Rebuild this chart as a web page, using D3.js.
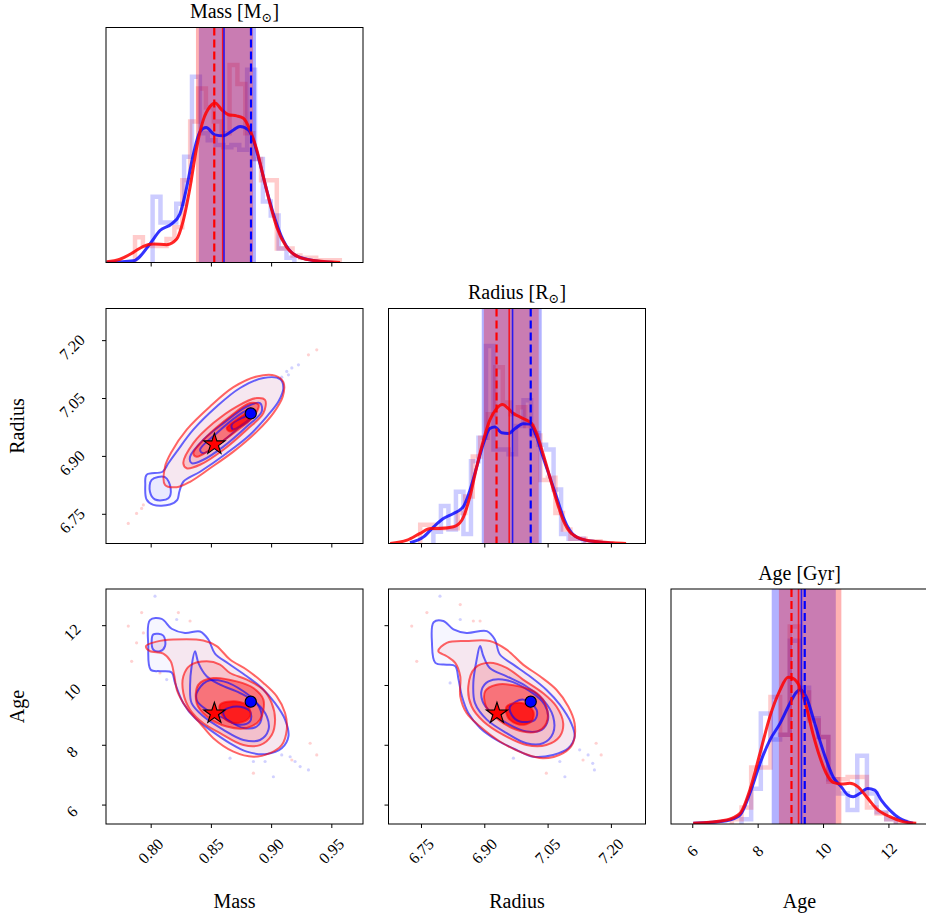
<!DOCTYPE html>
<html>
<head>
<meta charset="utf-8">
<script src="https://cdn.jsdelivr.net/npm/d3@7"></script>
<style>
  body { margin: 0; background: #fff; }
</style>
</head>
<body>
<svg id="chart" width="926" height="918"></svg>
<script>
// ---- axes ----
const varNames = ["Mass", "Radius", "Age"];
const titleParts = [["Mass [M", "⊙", "]"], ["Radius [R", "⊙", "]"], ["Age [Gyr]", "", ""]];
const domains = [[0.7629, 0.9763], [6.673, 7.282], [5.35, 13.21]];
const tickValues = [[0.80, 0.85, 0.90, 0.95], [6.75, 6.90, 7.05, 7.20], [6, 8, 10, 12]];
const tickLabels = [["0.80", "0.85", "0.90", "0.95"], ["6.75", "6.90", "7.05", "7.20"], ["6", "8", "10", "12"]];

// ---- 1D: kde curves [value, relative height] ----
const massKdeBlue = [[0.7634,0],[0.7856,0.007],[0.7994,0.079],[0.8077,0.136],[0.8174,0.164],[0.8243,0.207],[0.8299,0.32],[0.8354,0.46],[0.8410,0.557],[0.8460,0.574],[0.8534,0.543],[0.8604,0.539],[0.8687,0.564],[0.8742,0.579],[0.8811,0.564],[0.8853,0.52],[0.8908,0.42],[0.8964,0.307],[0.9019,0.207],[0.9102,0.093],[0.9185,0.036],[0.9296,0.014],[0.9518,0]];
const massKdeRed = [[0.7634,0.003],[0.7745,0.014],[0.7856,0.043],[0.7939,0.069],[0.8022,0.079],[0.8133,0.076],[0.8216,0.10],[0.8271,0.179],[0.8327,0.32],[0.8382,0.49],[0.8437,0.607],[0.8493,0.664],[0.8534,0.679],[0.8590,0.65],[0.8645,0.629],[0.8714,0.624],[0.8770,0.614],[0.8825,0.564],[0.8881,0.479],[0.8936,0.364],[0.8991,0.25],[0.9047,0.15],[0.9130,0.064],[0.9241,0.021],[0.9379,0.007],[0.9573,0]];
const radiusKdeBlue = [[6.724,0.003],[6.756,0.028],[6.780,0.071],[6.803,0.106],[6.827,0.128],[6.850,0.156],[6.866,0.227],[6.882,0.326],[6.898,0.426],[6.913,0.489],[6.925,0.496],[6.941,0.471],[6.957,0.468],[6.973,0.489],[6.992,0.51],[7.008,0.508],[7.024,0.454],[7.039,0.369],[7.055,0.284],[7.071,0.199],[7.087,0.113],[7.102,0.057],[7.126,0.021],[7.166,0.007],[7.205,0]];
const radiusKdeRed = [[6.677,0],[6.717,0.014],[6.748,0.043],[6.772,0.064],[6.795,0.064],[6.827,0.071],[6.847,0.10],[6.866,0.199],[6.882,0.326],[6.898,0.44],[6.913,0.525],[6.929,0.574],[6.943,0.591],[6.957,0.574],[6.969,0.553],[6.984,0.539],[7.000,0.525],[7.012,0.511],[7.024,0.468],[7.039,0.383],[7.055,0.284],[7.071,0.184],[7.087,0.099],[7.106,0.043],[7.142,0.014],[7.205,0.003],[7.236,0]];
const ageKdeBlue = [[6.03,0.003],[7.05,0.014],[7.46,0.038],[7.76,0.13],[8.07,0.257],[8.37,0.356],[8.68,0.427],[8.98,0.512],[9.19,0.561],[9.29,0.571],[9.49,0.54],[9.69,0.455],[9.90,0.356],[10.10,0.272],[10.31,0.20],[10.56,0.158],[10.76,0.123],[10.92,0.116],[11.12,0.13],[11.37,0.151],[11.58,0.144],[11.78,0.102],[12.04,0.059],[12.34,0.024],[12.75,0.003]];
const ageKdeRed = [[6.03,0.003],[7.05,0.017],[7.46,0.045],[7.76,0.144],[8.07,0.30],[8.37,0.455],[8.68,0.569],[8.93,0.625],[9.08,0.62],[9.29,0.583],[9.49,0.498],[9.69,0.385],[9.90,0.286],[10.10,0.215],[10.31,0.177],[10.56,0.17],[10.82,0.173],[11.07,0.158],[11.33,0.116],[11.63,0.066],[12.04,0.031],[12.44,0.01],[12.85,0.003]];

// ---- 1D: step histograms (first edge, bin width, relative heights) ----
const massHistBlue = { start: 0.8016, width: 0.00654, h: [.28,.17,.17,.25,.45,.79,.55,.52,.50,.49,.50,.48,.82,.44,.26,.20,.06,.02] };
const massHistRed = { start: 0.7870, width: 0.00654, h: [.107,.07,.07,.07,.10,.15,.35,.60,.74,.66,.60,.55,.84,.76,.55,.44,.35,.35,.06,.06,.03,.02,.02,.01,.01,.01] };
const radiusHistBlue = { start: 6.7794, width: 0.0178, h: [.05,.16,.06,.22,.04,.35,.45,.84,.40,.40,.38,.50,.61,.47,.42,.40,.23,.04,.02,.02] };
const radiusHistRed = { start: 6.7481, width: 0.0178, h: [.08,.08,.065,.065,.065,.13,.20,.37,.45,.55,.75,.60,.55,.58,.50,.46,.27,.28,.13,.06,.02,.02,.01,.01] };
const ageHistBlue = { start: 7.507, width: 0.295, h: [.02,.15,.47,.36,.38,.78,.58,.45,.37,.19,.13,.06,.29,.13,.05,.02] };
const ageHistRed = { start: 7.212, width: 0.295, h: [.02,.07,.24,.24,.54,.38,.84,.56,.44,.37,.18,.19,.20,.20,.07,.045,.02,.01] };

// ---- 1D: credible bands and summary lines ----
const bandsBlue = [[0.8400, 0.8874], [6.894, 7.036], [8.43, 10.39]];
const bandsRed = [[0.8376, 0.8850], [6.899, 7.029], [8.65, 10.56]];
const solidBlue = [0.8609, 6.967, 9.34];
const solidRed = [0.8598, 6.959, 9.25];
const dashBlue = [0.8833, 7.010, 9.44];
const dashRed = [0.8528, 6.929, 9.035];

// ---- 2D markers ----
const starPoint = [0.8529, 6.930, 9.05];
const dotPoint = [0.8831, 7.010, 9.44];

// ---- 2D contours: mass vs radius ----
const mrBlue1 = [[0.7966,6.851],[0.8099,6.859],[0.8147,6.881],[0.8216,6.911],[0.8354,6.968],[0.8548,7.028],[0.8742,7.076],[0.8936,7.102],[0.9075,7.099],[0.9102,7.076],[0.9061,7.041],[0.8964,7.002],[0.8825,6.955],[0.8631,6.907],[0.8410,6.859],[0.8271,6.833],[0.8238,6.807],[0.8221,6.786],[0.8160,6.774],[0.8022,6.773],[0.7966,6.787],[0.7955,6.825]];
const mrBlueIsland = [[0.8008,6.838],[0.8119,6.845],[0.8166,6.816],[0.8147,6.790],[0.8036,6.787],[0.7994,6.807]];
const mrBlue2 = [[0.8327,6.898],[0.8437,6.942],[0.8604,6.985],[0.8798,7.028],[0.8908,7.037],[0.8922,7.015],[0.8798,6.976],[0.8604,6.924],[0.8437,6.890],[0.8340,6.881]];
const mrBlue3 = [[0.8410,6.916],[0.8548,6.959],[0.8714,7.002],[0.8825,7.020],[0.8853,7.007],[0.8742,6.976],[0.8576,6.933],[0.8437,6.907]];
const mrBlue4 = [[0.8673,6.981],[0.8770,7.000],[0.8839,7.007],[0.8825,6.994],[0.8742,6.976],[0.8681,6.969]];
const mrRed1 = [[0.8119,6.872],[0.8174,6.911],[0.8299,6.968],[0.8493,7.028],[0.8687,7.078],[0.8881,7.106],[0.9033,7.108],[0.9102,7.091],[0.9097,7.054],[0.9019,7.011],[0.8881,6.963],[0.8687,6.911],[0.8493,6.868],[0.8327,6.833],[0.8216,6.819],[0.8119,6.825]];
const mrRed2 = [[0.8271,6.881],[0.8354,6.933],[0.8520,6.985],[0.8714,7.028],[0.8881,7.050],[0.8950,7.045],[0.8936,7.011],[0.8798,6.968],[0.8604,6.916],[0.8410,6.877],[0.8299,6.868]];
const mrRed3 = [[0.8354,6.907],[0.8465,6.950],[0.8659,7.002],[0.8825,7.037],[0.8895,7.033],[0.8853,7.002],[0.8687,6.959],[0.8493,6.916],[0.8382,6.898]];
const mrRed4 = [[0.8631,6.972],[0.8714,6.994],[0.8811,7.011],[0.8839,7.002],[0.8756,6.981],[0.8659,6.963]];
const mrDotsBlue = [[0.9130,7.119],[0.9172,7.128],[0.9227,7.136],[0.9144,7.110],[0.9088,7.104]];
const mrDotsRed = [[0.9379,7.175],[0.9310,7.162],[0.7814,6.725],[0.7883,6.751],[0.7925,6.764],[0.7939,6.773]];

// ---- 2D contours: mass vs age ----
const maBlue1 = [[0.7994,12.17],[0.8091,12.21],[0.8174,11.88],[0.8285,11.74],[0.8410,11.79],[0.8479,11.52],[0.8534,11.05],[0.8645,10.72],[0.8798,10.29],[0.8922,9.90],[0.9033,9.39],[0.9116,8.84],[0.9144,8.28],[0.9088,7.88],[0.8964,7.69],[0.8798,7.77],[0.8659,8.05],[0.8493,8.50],[0.8368,8.89],[0.8271,9.39],[0.8202,10.07],[0.8174,10.42],[0.8077,10.46],[0.8000,10.51],[0.7980,11.30]];
const maBlueIsland = [[0.8022,11.69],[0.8105,11.65],[0.8119,11.30],[0.8077,11.13],[0.8022,11.18],[0.8008,11.47]];
const maBlue2 = [[0.8368,11.13],[0.8396,10.74],[0.8465,10.29],[0.8576,10.01],[0.8742,9.73],[0.8881,9.39],[0.8964,8.95],[0.8978,8.50],[0.8908,8.16],[0.8770,8.16],[0.8604,8.50],[0.8437,8.95],[0.8340,9.39],[0.8327,9.95],[0.8340,10.63]];
const maBlue3 = [[0.8382,9.73],[0.8465,10.12],[0.8604,10.12],[0.8770,9.79],[0.8881,9.39],[0.8922,8.95],[0.8881,8.61],[0.8770,8.56],[0.8631,8.84],[0.8465,9.17],[0.8387,9.45]];
const maBlue4 = [[0.8604,9.12],[0.8714,9.28],[0.8825,9.12],[0.8825,8.78],[0.8742,8.67],[0.8631,8.84]];
const maRed1 = [[0.7961,11.30],[0.8050,11.45],[0.8188,11.52],[0.8437,11.49],[0.8548,11.30],[0.8659,10.85],[0.8798,10.51],[0.8936,10.07],[0.9047,9.62],[0.9116,9.06],[0.9130,8.50],[0.9088,7.99],[0.8991,7.72],[0.8853,7.60],[0.8687,7.77],[0.8520,8.22],[0.8410,8.72],[0.8299,9.23],[0.8221,9.79],[0.8194,10.35],[0.8166,10.79],[0.8105,11.05],[0.7994,11.13]];
const maRed2 = [[0.8327,10.65],[0.8465,10.79],[0.8576,10.68],[0.8659,10.40],[0.8798,10.18],[0.8936,9.84],[0.9005,9.39],[0.9033,8.84],[0.9005,8.33],[0.8908,7.99],[0.8770,7.99],[0.8576,8.39],[0.8437,8.72],[0.8327,9.17],[0.8271,9.73],[0.8271,10.29]];
const maRed3 = [[0.8396,10.01],[0.8520,10.23],[0.8714,10.12],[0.8853,9.90],[0.8936,9.51],[0.8908,8.84],[0.8798,8.56],[0.8631,8.61],[0.8465,8.95],[0.8382,9.39]];
const maRed4 = [[0.8576,9.34],[0.8714,9.45],[0.8811,9.28],[0.8825,8.95],[0.8756,8.75],[0.8645,8.78],[0.8582,9.06]];
const maDotsBlue = [[0.8036,12.97],[0.8216,12.19],[0.8659,7.55],[0.8853,7.44],[0.9019,6.93],[0.9088,7.66],[0.9158,7.60],[0.9199,7.44],[0.9241,7.27],[0.9310,7.16],[0.8950,7.44],[0.8133,10.18]];
const maDotsRed = [[0.7925,12.42],[0.7814,11.97],[0.7939,11.74],[0.7883,11.41],[0.8230,12.42],[0.8327,12.14],[0.8077,10.40],[0.9172,7.49],[0.9324,8.05],[0.9379,7.66],[0.8853,7.05],[0.7842,10.79]];

// ---- 2D contours: radius vs age ----
const raBlue1 = [[6.780,12.10],[6.803,12.14],[6.827,11.86],[6.858,11.74],[6.906,11.80],[6.925,11.52],[6.937,11.02],[6.969,10.68],[7.008,10.29],[7.047,9.84],[7.079,9.34],[7.106,8.72],[7.114,8.28],[7.099,7.88],[7.063,7.66],[7.016,7.60],[6.976,7.83],[6.929,8.16],[6.890,8.56],[6.862,9.06],[6.847,9.62],[6.839,10.18],[6.831,10.63],[6.811,10.68],[6.784,10.74],[6.776,11.41]];
const raBlue2 = [[6.890,11.30],[6.898,10.96],[6.913,10.57],[6.953,10.29],[7.000,9.95],[7.039,9.51],[7.063,8.95],[7.063,8.39],[7.039,8.05],[7.000,8.05],[6.953,8.39],[6.906,8.84],[6.878,9.39],[6.874,10.07],[6.882,10.85]];
const raBlue3 = [[6.894,9.84],[6.910,10.12],[6.953,10.16],[7.008,9.79],[7.043,9.34],[7.051,8.84],[7.036,8.50],[7.000,8.44],[6.953,8.72],[6.913,9.12],[6.896,9.45]];
const raBlue4 = [[6.961,9.28],[6.992,9.51],[7.024,9.17],[7.020,8.84],[6.984,8.78],[6.965,9.00]];
const raRed1 = [[6.791,11.13],[6.811,11.41],[6.858,11.47],[6.913,11.47],[6.953,11.18],[6.992,10.68],[7.032,10.29],[7.071,9.84],[7.099,9.28],[7.114,8.72],[7.110,8.05],[7.087,7.72],[7.039,7.55],[6.992,7.72],[6.937,8.11],[6.890,8.61],[6.858,9.06],[6.843,9.62],[6.843,10.29],[6.831,10.74],[6.811,10.96]];
const raRed2 = [[6.878,10.57],[6.913,10.74],[6.953,10.57],[6.992,10.18],[7.039,9.73],[7.071,9.28],[7.087,8.72],[7.079,8.28],[7.047,7.99],[7.000,7.99],[6.945,8.33],[6.898,8.78],[6.870,9.28],[6.862,9.95]];
const raRed3 = [[6.902,9.79],[6.929,10.01],[6.984,9.95],[7.024,9.73],[7.047,9.28],[7.047,8.72],[7.024,8.44],[6.976,8.50],[6.929,8.89],[6.904,9.28]];
const raRed4 = [[6.953,9.28],[6.992,9.39],[7.016,9.12],[7.012,8.78],[6.984,8.67],[6.957,8.89]];
const raDotsBlue = [[6.795,12.97],[6.843,12.19],[6.969,7.55],[7.079,7.44],[7.091,6.93],[7.126,7.83],[7.146,7.66],[7.157,7.38],[7.161,7.16],[6.819,10.07]];
const raDotsRed = [[6.764,12.42],[6.728,11.97],[6.740,10.79],[6.843,12.69],[6.874,12.14],[6.890,12.14],[7.165,8.05],[7.177,7.66],[7.047,7.05],[7.134,7.49]];

// ==========================================
const FONT = '"Liberation Serif", "DejaVu Serif", serif';
const W = 257, H = 235;
const colX = [106, 388.5, 671];
const rowY = [27.5, 308.5, 589];

const svg = d3.select("#chart");
const defs = svg.append("defs");

const xs = domains.map(d => d3.scaleLinear().domain(d).range([0, W]));
const ys = domains.map(d => d3.scaleLinear().domain(d).range([H, 0]));
const hScale = d3.scaleLinear().domain([0, 1]).range([H, 0]);

function makePanel(col, row) {
  const id = `clip-${row}-${col}`;
  defs.append("clipPath").attr("id", id).append("rect").attr("width", W).attr("height", H);
  const g = svg.append("g").attr("transform", `translate(${colX[col]},${rowY[row]})`);
  const inner = g.append("g").attr("clip-path", `url(#${id})`);
  return { g, inner };
}

function finishPanel(g, col, row, diag) {
  g.append("rect").attr("width", W).attr("height", H)
    .attr("fill", "none").attr("stroke", "#000").attr("stroke-width", 1);
  const xa = g.append("g").attr("transform", `translate(0,${H})`)
    .call(d3.axisBottom(xs[col]).tickValues(tickValues[col]).tickSize(4).tickFormat(""));
  xa.select(".domain").remove();
  xa.selectAll("line").attr("stroke", "#000");
  if (!diag) {
    const ya = g.append("g")
      .call(d3.axisLeft(ys[row]).tickValues(tickValues[row]).tickSize(4).tickFormat(""));
    ya.select(".domain").remove();
    ya.selectAll("line").attr("stroke", "#000");
  }
}

const kdeLine = d3.line().curve(d3.curveMonotoneX);
const closedLine = d3.line().curve(d3.curveCatmullRomClosed.alpha(0.5));

function stepPoints(hist) {
  const pts = [[hist.start, 0]];
  hist.h.forEach((v, k) => {
    const a = hist.start + k * hist.width, b = a + hist.width;
    pts.push([a, v], [b, v]);
  });
  pts.push([hist.start + hist.h.length * hist.width, 0]);
  return pts;
}

const diagData = [
  { kb: massKdeBlue, kr: massKdeRed, hb: massHistBlue, hr: massHistRed },
  { kb: radiusKdeBlue, kr: radiusKdeRed, hb: radiusHistBlue, hr: radiusHistRed },
  { kb: ageKdeBlue, kr: ageKdeRed, hb: ageHistBlue, hr: ageHistRed }
];

diagData.forEach((dd, i) => {
  const { g, inner } = makePanel(i, i);
  const x = xs[i];
  const line = kdeLine.x(d => x(d[0])).y(d => hScale(d[1]));

  [[dd.hb, "#0000ff"], [dd.hr, "#ff0000"]].forEach(([hist, c]) => {
    inner.append("path").attr("d", d3.line().x(d => x(d[0])).y(d => hScale(d[1]))(stepPoints(hist)))
      .attr("fill", "none").attr("stroke", c).attr("stroke-width", 4.5)
      .attr("stroke-opacity", 0.2).attr("stroke-linejoin", "miter");
  });

  [[bandsBlue[i], "#0000ff"], [bandsRed[i], "#ff0000"]].forEach(([b, c]) => {
    inner.append("rect").attr("x", x(b[0])).attr("width", x(b[1]) - x(b[0]))
      .attr("y", 0).attr("height", H).attr("fill", c).attr("fill-opacity", 0.3);
  });

  inner.append("path").attr("d", line(dd.kb)).attr("fill", "none")
    .attr("stroke", "#0000ff").attr("stroke-opacity", 0.8).attr("stroke-width", 3);
  inner.append("path").attr("d", line(dd.kr)).attr("fill", "none")
    .attr("stroke", "#ff0000").attr("stroke-opacity", 0.85).attr("stroke-width", 3);

  [[solidRed[i], "#ff0000", null], [solidBlue[i], "#0000ff", null],
   [dashRed[i], "#ff0000", "8,4"], [dashBlue[i], "#0000ff", "8,4"]].forEach(([v, c, dash]) => {
    inner.append("line").attr("x1", x(v)).attr("x2", x(v)).attr("y1", 0).attr("y2", H)
      .attr("stroke", c).attr("stroke-width", dash ? 2.2 : 1.6)
      .attr("stroke-opacity", dash ? 1 : 0.8)
      .attr("stroke-dasharray", dash);
  });

  finishPanel(g, i, i, true);

  // title
  const tp = titleParts[i];
  const t = svg.append("text").attr("x", colX[i] + W / 2).attr("y", rowY[i] - 9.5)
    .attr("text-anchor", "middle").attr("font-family", FONT).attr("font-size", 20).attr("fill", "#000");
  t.append("tspan").text(tp[0]);
  if (tp[1]) {
    t.append("tspan").attr("dy", 4).attr("font-size", 13).text(tp[1]);
    t.append("tspan").attr("dy", -4).text(tp[2]);
  }
});

const pairData = [
  { col: 0, row: 1, b: [mrBlue1, mrBlue2, mrBlue3, mrBlue4], bi: mrBlueIsland, r: [mrRed1, mrRed2, mrRed3, mrRed4], db: mrDotsBlue, dr: mrDotsRed },
  { col: 0, row: 2, b: [maBlue1, maBlue2, maBlue3, maBlue4], bi: maBlueIsland, r: [maRed1, maRed2, maRed3, maRed4], db: maDotsBlue, dr: maDotsRed },
  { col: 1, row: 2, b: [raBlue1, raBlue2, raBlue3, raBlue4], bi: null, r: [raRed1, raRed2, raRed3, raRed4], db: raDotsBlue, dr: raDotsRed }
];

const redFill = [0.06, 0.15, 0.4, 0.75];
const blueFill = [0.035, 0.02, 0, 0];

pairData.forEach(p => {
  const { g, inner } = makePanel(p.col, p.row);
  const x = xs[p.col], y = ys[p.row];
  const path = closedLine.x(d => x(d[0])).y(d => y(d[1]));

  p.b.forEach((c, k) => {
    if (blueFill[k] > 0) inner.append("path").attr("d", path(c)).attr("fill", "#0000ff").attr("fill-opacity", blueFill[k]);
  });
  if (p.bi) inner.append("path").attr("d", path(p.bi)).attr("fill", "#0000ff").attr("fill-opacity", 0.05);
  p.r.forEach((c, k) => {
    inner.append("path").attr("d", path(c)).attr("fill", "#ff0000").attr("fill-opacity", redFill[k]);
  });

  inner.selectAll(null).data(p.db).enter().append("circle")
    .attr("cx", d => x(d[0])).attr("cy", d => y(d[1])).attr("r", 1.6)
    .attr("fill", "#0000ff").attr("fill-opacity", 0.18);
  inner.selectAll(null).data(p.dr).enter().append("circle")
    .attr("cx", d => x(d[0])).attr("cy", d => y(d[1])).attr("r", 1.6)
    .attr("fill", "#ff0000").attr("fill-opacity", 0.18);

  const blueLines = p.bi ? p.b.concat([p.bi]) : p.b;
  blueLines.forEach(c => {
    inner.append("path").attr("d", path(c)).attr("fill", "none")
      .attr("stroke", "#0000ff").attr("stroke-opacity", 0.6).attr("stroke-width", 2);
  });
  p.r.forEach(c => {
    inner.append("path").attr("d", path(c)).attr("fill", "none")
      .attr("stroke", "#ff0000").attr("stroke-opacity", 0.6).attr("stroke-width", 2);
  });

  inner.append("path")
    .attr("d", d3.symbol().type(d3.symbolStar).size(140)())
    .attr("transform", `translate(${x(starPoint[p.col])},${y(starPoint[p.row])})`)
    .attr("fill", "#ff0000").attr("stroke", "#000").attr("stroke-width", 1.1);
  inner.append("circle")
    .attr("cx", x(dotPoint[p.col])).attr("cy", y(dotPoint[p.row])).attr("r", 5.6)
    .attr("fill", "#0000ff").attr("stroke", "#000").attr("stroke-width", 1.1);

  finishPanel(g, p.col, p.row, false);
});

// bottom tick labels and axis labels
[0, 1, 2].forEach(i => {
  tickValues[i].forEach((v, k) => {
    const tx = colX[i] + xs[i](v), ty = rowY[2] + H + 27;
    svg.append("text").attr("transform", `translate(${tx},${ty}) rotate(-45)`)
      .attr("text-anchor", "middle").attr("dominant-baseline", "central")
      .attr("font-family", FONT).attr("font-size", 16).attr("fill", "#000")
      .text(tickLabels[i][k]);
  });
  svg.append("text").attr("x", colX[i] + W / 2).attr("y", 908)
    .attr("text-anchor", "middle").attr("font-family", FONT).attr("font-size", 20)
    .attr("fill", "#000").text(varNames[i]);
});

// left tick labels and axis labels
[1, 2].forEach(j => {
  tickValues[j].forEach((v, k) => {
    const ty = rowY[j] + ys[j](v) + 7;
    svg.append("text").attr("transform", `translate(72,${ty}) rotate(-45)`)
      .attr("text-anchor", "middle").attr("dominant-baseline", "central")
      .attr("font-family", FONT).attr("font-size", 16).attr("fill", "#000")
      .text(tickLabels[j][k]);
  });
  svg.append("text").attr("transform", `translate(24,${rowY[j] + H / 2}) rotate(-90)`)
    .attr("text-anchor", "middle").attr("font-family", FONT).attr("font-size", 20)
    .attr("fill", "#000").text(varNames[j]);
});
</script>
</body>
</html>
